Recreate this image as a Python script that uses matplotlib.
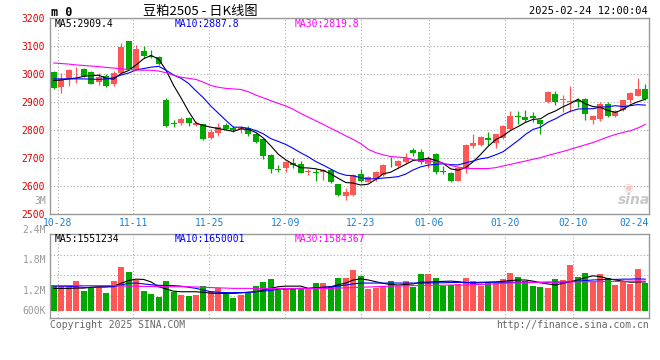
import matplotlib
matplotlib.use("Agg")
import matplotlib.pyplot as plt
import numpy as np

# trading days shown (one candle each)
dates = [
    "10-25", "10-28", "10-29", "10-30", "10-31",
    "11-01", "11-04", "11-05", "11-06", "11-07", "11-08", "11-11", "11-12", "11-13", "11-14",
    "11-15", "11-18", "11-19", "11-20", "11-21", "11-22", "11-25", "11-26", "11-27", "11-28", "11-29",
    "12-02", "12-03", "12-04", "12-05", "12-06", "12-09", "12-10", "12-11", "12-12", "12-13",
    "12-16", "12-17", "12-18", "12-19", "12-20", "12-23", "12-24", "12-25", "12-26", "12-27",
    "12-30", "12-31",
    "01-02", "01-03", "01-06", "01-07", "01-08", "01-09", "01-10", "01-13", "01-14", "01-15",
    "01-16", "01-17", "01-20", "01-21", "01-22", "01-23", "01-24", "01-27",
    "02-05", "02-06", "02-07", "02-10", "02-11", "02-12", "02-13", "02-14", "02-17", "02-18",
    "02-19", "02-20", "02-21", "02-24",
]
label_dates = ["10-28", "11-11", "11-25", "12-09", "12-23", "01-06", "01-20", "02-10", "02-24"]

opens = [3007, 2952, 2983, 3016, 3018, 3007, 2970, 2994, 2965, 3003,
         3117, 3018, 3083, 3064, 3061, 2906, 2823, 2823, 2841, 2817,
         2821, 2771, 2789, 2817, 2807, 2804, 2807, 2783, 2768, 2708,
         2660, 2662, 2682, 2676, 2648, 2650, 2650, 2656, 2605, 2563,
         2565, 2640, 2613, 2625, 2638, 2675, 2670, 2686, 2726, 2721,
         2676, 2712, 2652, 2644, 2617, 2662, 2742, 2745, 2769, 2754,
         2770, 2802, 2850, 2845, 2848, 2836, 2898, 2929, 2905, 2899,
         2907, 2911, 2836, 2839, 2893, 2848, 2869, 2907, 2921, 2946]
highs = [3010, 3003, 3018, 3025, 3022, 3010, 3002, 2998, 3010, 3111,
         3119, 3105, 3101, 3087, 3063, 2912, 2836, 2845, 2845, 2830,
         2822, 2801, 2823, 2825, 2815, 2815, 2813, 2789, 2771, 2712,
         2673, 2688, 2700, 2688, 2658, 2658, 2658, 2658, 2606, 2590,
         2640, 2661, 2635, 2652, 2679, 2702, 2690, 2715, 2736, 2730,
         2706, 2718, 2670, 2649, 2664, 2748, 2783, 2777, 2793, 2786,
         2818, 2868, 2868, 2869, 2863, 2836, 2940, 2940, 2923, 2955,
         2915, 2913, 2854, 2901, 2899, 2870, 2907, 2936, 2985, 2964]
lows = [2945, 2932, 2958, 2967, 2990, 2962, 2960, 2952, 2958, 3003,
        3013, 3015, 3057, 3055, 3032, 2811, 2811, 2818, 2812, 2814,
        2763, 2765, 2777, 2800, 2793, 2789, 2777, 2754, 2694, 2646,
        2649, 2647, 2664, 2644, 2637, 2617, 2620, 2610, 2563, 2550,
        2563, 2611, 2611, 2617, 2636, 2667, 2664, 2679, 2706, 2679,
        2662, 2640, 2640, 2611, 2615, 2646, 2736, 2742, 2744, 2736,
        2765, 2798, 2821, 2826, 2827, 2785, 2895, 2889, 2863, 2862,
        2881, 2836, 2821, 2830, 2845, 2845, 2867, 2895, 2919, 2907]
closes = [2949, 2982, 3015, 3018, 2992, 2964, 2988, 2956, 3003, 3096,
          3015, 3090, 3065, 3062, 3035, 2813, 2820, 2839, 2825, 2825,
          2765, 2793, 2810, 2804, 2799, 2807, 2783, 2756, 2706, 2658,
          2657, 2685, 2674, 2646, 2652, 2644, 2654, 2613, 2565, 2577,
          2638, 2617, 2629, 2650, 2674, 2672, 2687, 2698, 2718, 2686,
          2700, 2649, 2648, 2617, 2662, 2745, 2754, 2775, 2763, 2783,
          2815, 2850, 2844, 2836, 2842, 2821, 2935, 2899, 2911, 2902,
          2899, 2856, 2848, 2893, 2848, 2866, 2905, 2933, 2946, 2911]

ma5 = [2976, 2978, 2982, 2985, 2991, 2994, 2995, 2984, 2981, 3001,
       3012, 3032, 3054, 3066, 3053, 3013, 2959, 2914, 2866, 2824,
       2815, 2809, 2804, 2799, 2794, 2803, 2801, 2790, 2770, 2742,
       2712, 2692, 2676, 2664, 2663, 2660, 2654, 2642, 2626, 2611,
       2609, 2602, 2605, 2622, 2642, 2648, 2662, 2676, 2690, 2692,
       2698, 2690, 2680, 2660, 2655, 2664, 2685, 2711, 2740, 2764,
       2778, 2797, 2811, 2826, 2837, 2839, 2856, 2867, 2882, 2894,
       2909, 2893, 2883, 2880, 2869, 2862, 2872, 2889, 2900, 2909]
ma10 = [2982, 2982, 2982, 2982, 2982, 2981, 2980, 2982, 2986, 2996,
        3003, 3014, 3019, 3024, 3027, 3013, 2996, 2984, 2966, 2939,
        2914, 2884, 2859, 2833, 2809, 2809, 2805, 2797, 2785, 2768,
        2758, 2747, 2733, 2717, 2703, 2686, 2673, 2659, 2645, 2637,
        2635, 2628, 2624, 2624, 2627, 2629, 2632, 2641, 2656, 2667,
        2673, 2676, 2678, 2675, 2674, 2681, 2688, 2696, 2700, 2710,
        2721, 2741, 2761, 2783, 2801, 2809, 2827, 2839, 2854, 2866,
        2874, 2875, 2875, 2881, 2882, 2886, 2883, 2886, 2890, 2888]
ma30 = [3039, 3037, 3035, 3032, 3030, 3028, 3026, 3023, 3021, 3018,
        3016, 3014, 3013, 3013, 3010, 3004, 2995, 2988, 2984, 2980,
        2970, 2958, 2952, 2948, 2946, 2944, 2936, 2924, 2914, 2904,
        2894, 2885, 2873, 2858, 2845, 2832, 2819, 2805, 2792, 2778,
        2765, 2750, 2730, 2718, 2710, 2704, 2702, 2700, 2693, 2690,
        2688, 2686, 2680, 2672, 2666, 2662, 2661, 2661, 2661, 2664,
        2670, 2676, 2682, 2688, 2694, 2700, 2708, 2715, 2722, 2730,
        2738, 2746, 2754, 2764, 2774, 2783, 2790, 2796, 2806, 2819]

# volume, millions of lots
volumes = [1.44, 1.44, 1.38, 1.58, 1.23, 1.32, 1.34, 1.16, 1.58, 2.10,
           1.89, 1.62, 1.23, 1.12, 1.03, 1.58, 1.18, 1.08, 1.05, 1.08,
           1.41, 1.23, 1.32, 1.17, 0.99, 1.08, 1.17, 1.41, 1.54, 1.66,
           1.26, 1.35, 1.35, 1.29, 1.29, 1.51, 1.51, 1.41, 1.70, 1.70,
           1.98, 1.76, 1.29, 1.32, 1.41, 1.58, 1.41, 1.58, 1.37, 1.83,
           1.83, 1.69, 1.41, 1.44, 1.47, 1.69, 1.58, 1.41, 1.54, 1.52,
           1.66, 1.87, 1.73, 1.58, 1.41, 1.37, 1.33, 1.66, 1.62, 2.16,
           1.73, 1.87, 1.54, 1.83, 1.69, 1.44, 1.56, 1.48, 2.01, 1.51]
vol_ma5 = [1.32, 1.32, 1.32, 1.33, 1.33, 1.36, 1.38, 1.38, 1.40, 1.50,
           1.60, 1.65, 1.64, 1.55, 1.38, 1.30, 1.22, 1.20, 1.20, 1.20,
           1.18, 1.15, 1.14, 1.14, 1.14, 1.16, 1.18, 1.20, 1.26, 1.32,
           1.38, 1.40, 1.40, 1.40, 1.32, 1.34, 1.36, 1.38, 1.45, 1.51,
           1.62, 1.66, 1.62, 1.56, 1.50, 1.46, 1.44, 1.46, 1.48, 1.54,
           1.54, 1.56, 1.57, 1.58, 1.56, 1.53, 1.51, 1.52, 1.54, 1.55,
           1.57, 1.60, 1.62, 1.62, 1.58, 1.52, 1.48, 1.44, 1.50, 1.56,
           1.62, 1.70, 1.77, 1.74, 1.67, 1.62, 1.58, 1.54, 1.55, 1.55]
vol_ma10 = [1.40, 1.40, 1.39, 1.38, 1.36, 1.36, 1.36, 1.37, 1.38, 1.44,
            1.50, 1.51, 1.48, 1.45, 1.43, 1.42, 1.42, 1.40, 1.36, 1.32,
            1.26, 1.20, 1.18, 1.17, 1.17, 1.17, 1.18, 1.20, 1.22, 1.25,
            1.29, 1.30, 1.31, 1.32, 1.32, 1.34, 1.36, 1.37, 1.40, 1.44,
            1.48, 1.51, 1.51, 1.51, 1.51, 1.51, 1.51, 1.51, 1.51, 1.51,
            1.51, 1.52, 1.52, 1.53, 1.53, 1.53, 1.53, 1.54, 1.54, 1.54,
            1.54, 1.54, 1.54, 1.54, 1.54, 1.54, 1.54, 1.54, 1.54, 1.56,
            1.58, 1.60, 1.62, 1.63, 1.64, 1.64, 1.65, 1.65, 1.66, 1.65]
vol_ma30 = [1.42, 1.42, 1.42, 1.42, 1.42, 1.42, 1.42, 1.42, 1.42, 1.41,
            1.40, 1.40, 1.39, 1.39, 1.38, 1.38, 1.38, 1.38, 1.38, 1.37,
            1.36, 1.35, 1.34, 1.33, 1.32, 1.32, 1.32, 1.32, 1.32, 1.32,
            1.32, 1.32, 1.32, 1.32, 1.32, 1.32, 1.32, 1.32, 1.33, 1.34,
            1.35, 1.36, 1.37, 1.38, 1.39, 1.40, 1.41, 1.41, 1.42, 1.42,
            1.43, 1.43, 1.43, 1.44, 1.44, 1.44, 1.45, 1.46, 1.47, 1.48,
            1.50, 1.51, 1.52, 1.52, 1.53, 1.53, 1.54, 1.54, 1.55, 1.55,
            1.55, 1.56, 1.56, 1.56, 1.57, 1.57, 1.57, 1.58, 1.58, 1.58]

ma_latest = ["2909.4", "2887.8", "2819.8"]
vol_ma_latest = ["1551234", "1650001", "1584367"]
price_ticks = [2500, 2600, 2700, 2800, 2900, 3000, 3100, 3200]
vol_tick_labels = ["2.4M", "1.8M", "1.2M", "600K"]

RED = "#ff5656"
GREEN = "#00a800"
GRID = "#aaaaaa"
FRAME = "#999999"
MA_COLORS = ["black", "#0000ff", "#ff00ff"]

plt.rcParams["font.family"] = ["DejaVu Sans Mono"]
plt.rcParams["font.size"] = 7

W, H = 660, 360
fig = plt.figure(figsize=(6.6, 3.6), dpi=100)
ax = fig.add_axes([50 / W, (H - 213.5) / H, 599 / W, 195.5 / H])
vax = fig.add_axes([50 / W, (H - 318) / H, 599 / W, 84 / H])

n = len(dates)
x = np.arange(n)
o = np.array(opens)
c = np.array(closes)
colors = np.where(c >= o, RED, GREEN)

# date grid is spaced over n-1 slots, candles over n slots
grid_x = [dates.index(d) * n / (n - 1) - 0.5 for d in label_dates]

# candles
ax.vlines(x, lows, highs, colors=colors, linewidth=0.9, zorder=2)
ax.bar(x, np.maximum(np.abs(c - o), 2.5), bottom=np.minimum(o, c),
       width=0.8, color=colors, linewidth=0, zorder=3)
for ma, col in zip([ma5, ma10, ma30], MA_COLORS):
    ax.plot(x, ma, color=col, linewidth=0.8, zorder=4)

ax.set_xlim(-0.5, n - 0.5)
ax.set_ylim(2500, 3200)
ax.set_yticks(price_ticks)
ax.set_xticks(grid_x)
ax.set_xticklabels(label_dates)
ax.xaxis.get_ticklabels()[-1].set_ha("right")
ax.tick_params(axis="both", length=0)
ax.tick_params(axis="y", pad=3.5, labelcolor="#e00000", labelsize=7)
ax.tick_params(axis="x", pad=3, labelcolor="#1a80d0", labelsize=7)
ax.grid(True, color=GRID, linestyle=(0, (1, 2)), linewidth=0.8, zorder=0)
for sp in ax.spines.values():
    sp.set_color(FRAME)
    sp.set_linewidth(1.0)

# volume panel
vlo, vhi, vbase = 0.262, 3.263, 0.523
vax.bar(x, np.array(volumes) - vbase, bottom=vbase, width=0.8,
        color=colors, linewidth=0, zorder=2)
for ma, col in zip([vol_ma5, vol_ma10, vol_ma30], MA_COLORS):
    vax.plot(x, ma, color=col, linewidth=0.8, zorder=3)
vax.set_xlim(-0.5, n - 0.5)
vax.set_ylim(vlo, vhi)
vax.set_xticks(grid_x)
vax.set_yticks([vlo + f * (vhi - vlo) for f in (0.26, 0.51, 0.75)])
vax.tick_params(axis="both", length=0, labelleft=False, labelbottom=False)
vax.grid(True, color=GRID, linestyle=(0, (1, 2)), linewidth=0.8, zorder=0)
for sp in vax.spines.values():
    sp.set_color(FRAME)
    sp.set_linewidth(1.0)

for lab, ypx in zip(vol_tick_labels, [230, 260, 290.7, 311]):
    fig.text(46 / W, 1 - ypx / H, lab, ha="right", va="center", color=FRAME, fontsize=7)
fig.text(46 / W, 1 - 200.7 / H, "3M", ha="right", va="center", color=FRAME, fontsize=7)

# header
fig.text(51 / W, 1 - 12 / H, "m 0", ha="left", va="center", fontsize=8.5, fontweight="bold")
fig.text(200 / W, 1 - 11 / H, "豆粕2505 - 日K线图", ha="center", va="center",
         fontsize=9.5, family=["Noto Sans CJK SC", "DejaVu Sans"])
fig.text(648 / W, 1 - 11.5 / H, "2025-02-24 12:00:04", ha="right", va="center", fontsize=7.5)

for name, val, col, xpx in zip(["MA5", "MA10", "MA30"], ma_latest, MA_COLORS, [55, 175, 295]):
    fig.text(xpx / W, 1 - 24 / H, f"{name}:{val}", ha="left", va="center", color=col, fontsize=7)
for name, val, col, xpx in zip(["MA5", "MA10", "MA30"], vol_ma_latest, MA_COLORS, [55, 175, 295]):
    fig.text(xpx / W, 1 - 239 / H, f"{name}:{val}", ha="left", va="center", color=col, fontsize=7)

# watermark
fig.text(628 / W, 1 - 188 / H, "◉", ha="center", va="center", color="#f4c8c8",
         fontsize=8, family=["DejaVu Sans"])
fig.text(634 / W, 1 - 200 / H, "sina", ha="center", va="center", color="#c8c8c8",
         fontsize=10, fontweight="bold", style="italic", family=["DejaVu Sans"])

# footer
fig.text(50 / W, 1 - 324.5 / H, "Copyright 2025 SINA.COM", ha="left", va="center",
         color="#666666", fontsize=7)
fig.text(649 / W, 1 - 324.5 / H, "http://finance.sina.com.cn", ha="right", va="center",
         color="#666666", fontsize=7)

fig.savefig("out.png", dpi=100, facecolor="white")
